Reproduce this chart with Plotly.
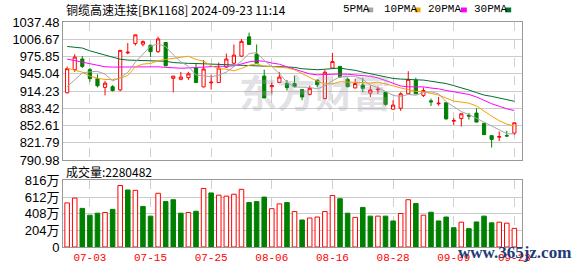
import plotly.graph_objects as go

# ---------------- data ----------------
dates = ["06-28", "07-01", "07-02", "07-03", "07-04", "07-05", "07-08", "07-09", "07-10", "07-11",
         "07-12", "07-15", "07-16", "07-17", "07-18", "07-19", "07-22", "07-23", "07-24", "07-25",
         "07-26", "07-29", "07-30", "07-31", "08-01", "08-02", "08-05", "08-06", "08-07", "08-08",
         "08-09", "08-12", "08-13", "08-14", "08-15", "08-16", "08-19", "08-20", "08-21", "08-22",
         "08-23", "08-26", "08-27", "08-28", "08-29", "08-30", "09-02", "09-03", "09-04", "09-05",
         "09-06", "09-09", "09-10", "09-11", "09-12", "09-13", "09-18", "09-19", "09-20", "09-23"]

open_ = [911.1, 952.4, 971.4, 952.4, 936.4, 920.8, 922.0, 916.2, 982.3, 999.0,
         997.8, 996.0, 984.5, 1001.0, 936.9, 935.2, 938.1, 955.3, 921.6, 929.0,
         929.5, 957.0, 963.9, 976.6, 1011.0, 980.0, 940.9, 922.0, 929.5, 928.3,
         927.7, 916.8, 908.2, 933.5, 900.7, 955.3, 958.2, 935.2, 919.7, 924.9,
         910.5, 916.5, 912.2, 881.8, 883.5, 909.3, 933.5, 906.5, 896.7, 891.5,
         893.3, 860.5, 865.1, 871.3, 874.9, 856.5, 834.6, 831.8, 834.6, 839.2]
high = [958.0, 980.0, 976.6, 955.3, 943.8, 932.3, 924.9, 987.5, 1000.0, 1015.0,
        1004.7, 996.5, 1011.5, 1001.5, 941.0, 948.4, 948.4, 962.8, 969.7, 943.8,
        965.1, 981.2, 997.3, 1007.0, 1018.5, 997.3, 952.4, 929.5, 947.8, 934.0,
        942.0, 917.5, 923.7, 935.2, 952.4, 982.3, 958.5, 938.1, 936.4, 938.1,
        923.7, 922.6, 912.5, 897.9, 912.2, 949.6, 938.1, 920.8, 900.7, 903.6,
        893.5, 866.2, 873.9, 874.9, 883.5, 856.8, 834.8, 842.1, 843.2, 857.6]
low = [910.0, 948.4, 955.3, 930.6, 920.8, 906.5, 913.4, 913.9, 980.0, 995.5,
       993.8, 975.0, 982.3, 958.5, 911.8, 933.5, 934.1, 929.0, 921.0, 916.8,
       929.0, 955.3, 962.0, 975.4, 997.0, 962.8, 901.5, 909.3, 929.0, 915.0,
       920.8, 897.9, 906.5, 920.8, 899.6, 955.0, 938.1, 920.8, 919.5, 912.2,
       903.6, 909.3, 888.1, 881.5, 878.9, 908.2, 909.0, 903.6, 887.5, 888.1,
       863.3, 853.6, 850.7, 863.3, 858.5, 836.2, 813.4, 824.9, 833.0, 835.8]
close = [954.2, 974.8, 958.2, 936.4, 923.7, 928.3, 915.1, 986.9, 983.5, 1014.5,
         1002.4, 984.5, 1007.3, 959.3, 940.9, 939.2, 945.0, 929.5, 953.6, 930.0,
         955.3, 971.4, 978.3, 1003.0, 997.3, 963.9, 901.9, 924.0, 939.2, 920.3,
         922.0, 903.6, 919.1, 925.4, 947.8, 966.8, 939.2, 922.0, 927.7, 919.1,
         916.2, 917.5, 890.4, 889.2, 909.3, 935.2, 909.3, 915.1, 895.0, 892.5,
         864.5, 861.5, 873.7, 869.5, 858.8, 836.4, 827.8, 833.0, 834.0, 857.6]

# volume in 万 (10k shares)
volume = [540, 599, 473, 390, 414, 422, 461, 753, 698, 694,
          497, 378, 658, 556, 579, 414, 422, 438, 717, 662,
          635, 623, 646, 706, 544, 556, 611, 469, 528, 544,
          434, 331, 355, 367, 434, 631, 591, 414, 363, 485,
          378, 378, 378, 319, 410, 579, 532, 390, 426, 319,
          367, 236, 304, 225, 307, 378, 296, 304, 292, 228.0482]

ma5 = [922.0, 935.2, 946.7, 948.4, 949.5, 944.3, 932.3, 938.1, 947.5, 965.7,
       980.5, 994.4, 998.4, 993.6, 978.9, 966.2, 958.3, 942.8, 941.6, 939.5,
       942.7, 948.0, 957.7, 967.6, 981.1, 982.8, 968.9, 958.0, 945.3, 929.9,
       921.5, 921.8, 920.8, 918.1, 923.6, 932.5, 939.7, 940.2, 940.7, 935.0,
       924.8, 920.5, 914.2, 906.5, 904.5, 908.3, 906.7, 911.6, 912.8, 909.4,
       895.3, 885.7, 877.4, 872.3, 865.6, 860.0, 853.2, 845.1, 838.0, 837.8]
ma10 = [955.0, 952.0, 948.0, 941.0, 937.0, 935.0, 934.5, 937.0, 942.0, 957.6,
        962.4, 963.4, 968.3, 970.6, 972.3, 973.4, 976.4, 970.6, 967.6, 959.2,
        954.5, 953.2, 950.3, 954.6, 960.3, 962.8, 958.5, 957.9, 956.5, 955.5,
        952.2, 945.4, 939.4, 931.7, 926.8, 927.0, 930.8, 930.5, 929.4, 929.3,
        928.7, 930.1, 927.2, 923.6, 919.8, 916.6, 913.6, 912.9, 909.7, 907.0,
        901.8, 896.2, 894.5, 892.6, 887.5, 877.7, 869.5, 861.3, 855.2, 851.7]
ma20 = [971.4, 968.5, 965.1, 962.0, 959.3, 957.5, 957.0, 957.0, 957.5, 958.0,
        958.2, 958.2, 957.5, 956.5, 955.5, 955.0, 955.5, 956.5, 957.5, 958.4,
        958.5, 958.3, 959.3, 962.6, 966.3, 968.1, 967.5, 964.3, 962.1, 957.4,
        953.4, 949.3, 944.9, 943.2, 943.6, 944.9, 944.7, 944.2, 943.0, 942.4,
        940.5, 937.8, 933.3, 927.7, 923.3, 921.8, 922.2, 921.7, 919.6, 918.2,
        915.3, 913.2, 910.9, 908.1, 903.7, 897.2, 891.6, 887.1, 882.5, 879.4]
ma30 = [993.8, 992.7, 991.0, 986.0, 982.0, 978.0, 974.0, 971.0, 969.5, 969.1,
        968.5, 968.5, 968.5, 967.4, 965.1, 964.0, 963.6, 963.4, 962.8, 962.0,
        961.2, 960.5, 960.0, 959.6, 959.2, 958.7, 958.4, 958.1, 957.8, 957.5,
        956.4, 954.0, 952.7, 952.3, 953.2, 954.4, 955.3, 953.0, 951.2, 948.0,
        945.2, 942.9, 939.0, 936.7, 935.6, 935.5, 934.3, 933.8, 931.9, 930.6,
        927.6, 923.9, 920.4, 916.0, 911.4, 907.1, 904.7, 901.6, 898.1, 896.0]

price_ticks = [790.98, 821.79, 852.61, 883.42, 914.23, 945.04, 975.85, 1006.67, 1037.48]
vol_ticks = [0, 204, 408, 612, 816]
vol_tick_text = ["0", "204万", "408万", "612万", "816万"]
date_tick_idx = [3, 11, 19, 27, 35, 43, 51, 59]

title_text = "铜缆高速连接[BK1168] 2024-09-23 11:14"
vol_text = "成交量:2280482"
ma_names = ["5PMA", "10PMA", "20PMA", "30PMA"]

# ---------------- styling ----------------
RED = "#ff0000"
GREEN = "#008000"
ma_colors = ["#a6a6a6", "#f5a300", "#ff00ff", "#006f30"]

W, H = 578, 276
L, R, T, B = 56, 56, 22, 21
pw, ph = W - L - R, H - T - B


def pxx(px):
    return (px - L) / pw


def pxy(py):
    return (H - B - py) / ph


x = list(range(len(dates)))

vol_fill, vol_edge = [], []
for i in range(len(close)):
    up = True if i == 0 else close[i] >= close[i - 1]
    vol_fill.append("#ffffff" if up else GREEN)
    vol_edge.append(RED if up else GREEN)

fig = go.Figure()

fig.add_trace(go.Candlestick(
    x=x, open=open_, high=high, low=low, close=close,
    increasing=dict(line=dict(color=RED, width=1), fillcolor="#ffffff"),
    decreasing=dict(line=dict(color=GREEN, width=1), fillcolor=GREEN),
    whiskerwidth=0, xaxis="x", yaxis="y", showlegend=False, hoverinfo="skip"))

for vals, col, name in zip([ma30, ma20, ma10, ma5], ma_colors[::-1], ma_names[::-1]):
    fig.add_trace(go.Scatter(x=x, y=vals, mode="lines", line=dict(color=col, width=1),
                             name=name, xaxis="x", yaxis="y", showlegend=False,
                             hoverinfo="skip"))

fig.add_trace(go.Bar(x=x, y=volume, width=0.6,
                     marker=dict(color=vol_fill, line=dict(color=vol_edge, width=1)),
                     xaxis="x2", yaxis="y2", showlegend=False, hoverinfo="skip"))

xrange = [(L - 60.2) / 7.696, (W - R - 60.2) / 7.696]
axis_line = "#999999"
grid = "#d0d0d0"

common_x = dict(range=xrange, tickvals=date_tick_idx, showgrid=True, gridcolor=grid,
                griddash="dash", gridwidth=1, showline=True, mirror=True, linecolor=axis_line,
                linewidth=1, zeroline=False, ticks="", fixedrange=True)

fig.update_layout(
    width=W, height=H,
    margin=dict(l=L, r=R, t=T, b=B, pad=0),
    paper_bgcolor="#ffffff", plot_bgcolor="#ffffff",
    showlegend=False, hovermode=False, boxgap=0.4, bargap=0.4,
    xaxis=dict(domain=[0, 1], anchor="y", showticklabels=False,
               rangeslider=dict(visible=False), **common_x),
    xaxis2=dict(domain=[0, 1], anchor="y2", showticklabels=True,
                ticktext=[dates[i] for i in date_tick_idx],
                tickfont=dict(family="Liberation Mono", size=11, color=RED), **common_x),
    yaxis=dict(domain=[pxy(165), 1], range=[price_ticks[0], price_ticks[-1]],
               tickvals=price_ticks, ticktext=[f"{v:.2f}" for v in price_ticks],
               tickfont=dict(family="Liberation Sans", size=13, color="#000000"),
               showgrid=True, gridcolor="#cccccc", showline=True, mirror=True,
               linecolor=axis_line, zeroline=False, ticks="", fixedrange=True),
    yaxis2=dict(domain=[0, pxy(186)], range=[0, 816], tickvals=vol_ticks,
                ticktext=vol_tick_text,
                tickfont=dict(family="Liberation Sans, Noto Sans CJK SC", size=13, color="#000000"),
                showgrid=True, gridcolor="#cccccc", showline=True, mirror=True,
                linecolor=axis_line, zeroline=False, ticks="", fixedrange=True),
)

annotations = [
    dict(text=title_text, x=pxx(57), y=pxy(9), xref="paper", yref="paper",
         xanchor="left", yanchor="middle", showarrow=False,
         font=dict(family="Noto Sans CJK SC", size=12, color="#000000")),
    dict(text=vol_text, x=pxx(57), y=pxy(177), xref="paper", yref="paper",
         xanchor="left", yanchor="middle", showarrow=False,
         font=dict(family="Noto Sans CJK SC", size=12, color="#000000")),
    dict(text="<b>东方财富</b>", x=pxx(312), y=pxy(93), xref="paper", yref="paper",
         xanchor="center", yanchor="middle", showarrow=False,
         font=dict(family="Noto Sans CJK SC", size=38, color="rgba(160,160,178,0.32)")),
    dict(text="<b>www.365jz.com</b>", x=pxx(455), y=pxy(261), xref="paper", yref="paper",
         xanchor="left", yanchor="middle", showarrow=False,
         font=dict(family="Liberation Serif", size=17, color="#1d3c7a")),
]

legend_text_x = [338, 380, 425, 471]
legend_box_x = [365, 413, 460, 505]
shapes = []
for name, col, tx, bx in zip(ma_names, ma_colors, legend_text_x, legend_box_x):
    annotations.append(dict(text=name, x=pxx(tx), y=pxy(9), xref="paper", yref="paper",
                            xanchor="left", yanchor="middle", showarrow=False,
                            font=dict(family="Liberation Mono", size=11, color="#000000")))
    shapes.append(dict(type="rect", xref="paper", yref="paper",
                       x0=pxx(bx), x1=pxx(bx + 6), y0=pxy(12), y1=pxy(7),
                       fillcolor=col, line=dict(width=0)))

fig.update_layout(annotations=annotations, shapes=shapes)

fig.write_html("out.html")
